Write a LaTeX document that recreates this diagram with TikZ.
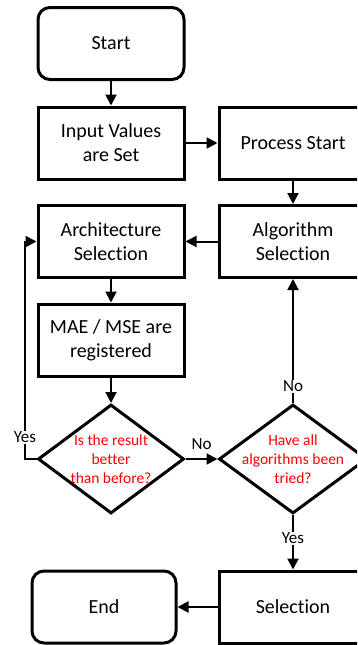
\documentclass[tikz,border=0pt]{standalone}
\usepackage{fontspec}
\setmainfont{Carlito}[Ligatures=NoCommon]
\usetikzlibrary{shapes.geometric,arrows.meta}

\begin{document}
\begin{tikzpicture}[
    x = 1pt, y = -1pt,
    font = \fontsize{20}{24}\selectfont,
    boxstyle/.style = {draw, line width=3pt, minimum width=146pt, minimum height=72pt, align=center, inner sep=0pt},
    roundstyle/.style = {boxstyle, rounded corners=12pt},
    decstyle/.style = {draw, diamond, line width=3pt, minimum width=146pt, minimum height=109pt, inner sep=0pt},
    asktext/.style = {red, align=center, font=\fontsize{15.5}{19}\selectfont},
    linkstyle/.style = {line width=2pt, -{Triangle[length=11pt,width=11pt]}},
    tagstyle/.style = {font=\fontsize{17}{20}\selectfont, fill=white, inner sep=1pt}
]

    \useasboundingbox (0,0) rectangle (357,645);
    \clip (0,0) rectangle (357,645);

    % left column
    \node[roundstyle] (start) at (111,43.5) {Start};
    \node[boxstyle] (input) at (111,143) {Input Values\\are Set};
    \node[boxstyle] (arch) at (111,241.5) {Architecture\\Selection};
    \node[boxstyle] (mae) at (111,340) {MAE / MSE are\\registered};
    \node[decstyle] (d1) at (111,459) {};
    \node[asktext] (q1) at (d1) {Is the result\\better\\than before?};
    \node[roundstyle, minimum width=144pt] (end) at (104,607) {End};

    % right column
    \node[boxstyle, minimum width=148pt] (process) at (293,143) {Process Start};
    \node[boxstyle, minimum width=148pt] (algo) at (293,241.5) {Algorithm\\Selection};
    \node[decstyle, minimum width=148pt] (d2) at (293,459) {};
    \node[asktext] (q2) at (d2) {Have all\\algorithms been\\tried?};
    \node[boxstyle, minimum width=148pt] (sel) at (293,607) {Selection};

    \coordinate (bend) at (25,459);

    \draw[linkstyle] (start) -- (input);
    \draw[linkstyle] (input) -- (process);
    \draw[linkstyle] (process) -- (algo);
    \draw[linkstyle] (algo) -- (arch);
    \draw[linkstyle] (arch) -- (mae);
    \draw[linkstyle] (mae) -- (d1);
    \draw[linkstyle] (d1) -- node[tagstyle, above=7pt, fill=none] {No} (d2);
    \draw[linkstyle] (d2) -- node[tagstyle, pos=0.135] {No} (algo);
    \draw[linkstyle] (d2) -- node[tagstyle, pos=0.43] {Yes} (sel);
    \draw[linkstyle] (d1.west) -- (bend) |- node[tagstyle, pos=0.05] {Yes} (arch.west);
    \draw[linkstyle] (sel) -- (end);

\end{tikzpicture}
\end{document}
